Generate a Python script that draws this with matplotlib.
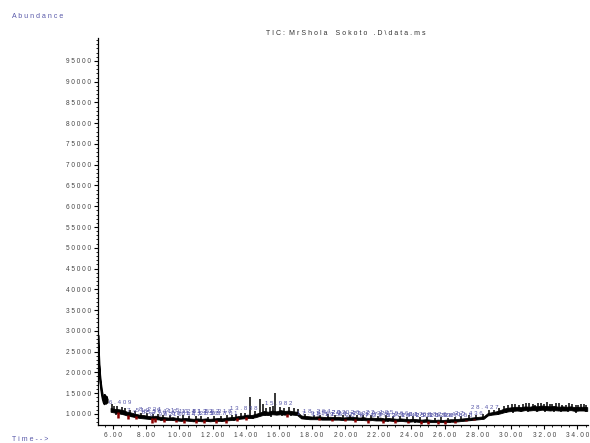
import numpy as np
import matplotlib
matplotlib.use("Agg")
import matplotlib.pyplot as plt
from matplotlib.ticker import MultipleLocator

plt.rcParams['font.family'] = ['Liberation Sans', 'DejaVu Sans']

# solvent front, start of the run
front_time = [5.09, 5.12, 5.16, 5.20, 5.25, 5.30, 5.35, 5.40, 5.45, 5.50, 5.55, 5.60, 5.65]
front_top = [29000, 25500, 22000, 19500, 17500, 16000, 14800, 13800, 13200, 14600, 13000, 14200, 13500]
front_bot = [27000, 23000, 20000, 18000, 16000, 14500, 13500, 12800, 12400, 12800, 12500, 12700, 12800]

# TIC band (upper / lower edge), one value every 0.25 min starting at 5.85 min, in counts/100
band_top = [114, 112, 111, 109, 105, 103, 100, 98, 97, 95, 94, 95, 93, 92, 91, 92, 90, 89, 90, 89,
            88, 89, 88, 89, 88, 89, 90, 89, 91, 92, 93, 95, 96, 98, 97, 100, 103, 107, 105, 108,
            106, 109, 107, 108, 106, 105, 96, 95, 94, 93, 94, 93, 92, 93, 92, 93, 91, 92, 93, 92,
            91, 92, 90, 91, 90, 91, 89, 90, 89, 88, 89, 88, 87, 88, 87, 86, 87, 86, 85, 86,
            85, 86, 87, 87, 88, 89, 90, 91, 92, 93, 94, 102, 104, 106, 109, 113, 115, 116, 117, 116,
            118, 117, 119, 118, 120, 119, 118, 119, 117, 118, 117, 118, 116, 117, 117, 116]
band_bot = [105, 103, 101, 99, 96, 94, 92, 90, 89, 88, 87, 87, 86, 85, 85, 85, 84, 83, 84, 83,
            82, 83, 82, 83, 82, 83, 83, 83, 84, 85, 86, 88, 89, 90, 90, 92, 95, 98, 97, 99,
            98, 99, 98, 99, 98, 97, 89, 88, 87, 87, 87, 86, 86, 86, 86, 86, 85, 86, 86, 85,
            85, 85, 84, 85, 84, 84, 83, 84, 83, 82, 83, 82, 81, 82, 81, 80, 81, 80, 80, 80,
            80, 80, 81, 81, 82, 83, 84, 85, 86, 87, 88, 96, 98, 99, 101, 104, 106, 107, 108, 107,
            109, 108, 109, 108, 110, 109, 108, 109, 108, 108, 108, 109, 107, 108, 108, 107]

# noise spikes above the band (time, counts)
spike_time = [5.95, 6.05, 6.25, 6.55, 6.75, 7.02, 7.3, 7.7, 8.05, 8.4, 8.7, 9.0, 9.45, 9.9, 10.25,
              10.6, 11.0, 11.3, 11.7, 12.1, 12.5, 12.9, 13.2, 13.4, 13.7, 13.95, 14.27, 14.55, 14.87,
              15.05, 15.25, 15.45, 15.62, 15.78, 16.05, 16.3, 16.6, 16.9, 17.15, 17.6, 18.1, 18.5,
              18.95, 19.4, 19.85, 20.3, 20.7, 21.1, 21.55, 22.0, 22.45, 22.9, 23.3, 23.7, 24.1, 24.5,
              24.95, 25.4, 25.8, 26.2, 26.6, 27.0, 27.45, 27.9, 28.3, 28.7, 29.0, 29.3, 29.55, 29.8,
              30.05, 30.25, 30.5, 30.7, 30.9, 31.1, 31.3, 31.45, 31.65, 31.8, 32.0, 32.15, 32.35,
              32.5, 32.7, 32.9, 33.1, 33.3, 33.5, 33.7, 33.9, 34.05, 34.25, 34.4, 34.55]
spike_top = [12300, 11900, 11800, 11600, 11300, 11000, 10700, 10300, 10100, 9900, 10000, 9700, 9600, 9500,
             9600, 9400, 9500, 9400, 9300, 9400, 9500, 9700, 9800, 9900, 10100, 10300, 14000, 10600,
             13500, 12400, 11500, 11600, 11900, 15000, 11700, 11500, 11600, 11300, 11200, 9900, 9800,
             9800, 9900, 9700, 9800, 9700, 9800, 9600, 9700, 9500, 9600, 9400, 9500, 9300, 9400, 9200,
             9300, 9100, 9200, 9100, 9300, 9400, 9600, 9800, 10000, 10900, 11000, 11500, 11900, 12100,
             12300, 12400, 12100, 12300, 12500, 12700, 12300, 12200, 12500, 12600, 12400, 12900, 12300,
             12300, 12600, 12500, 12200, 12200, 12500, 12400, 12200, 12200, 12400, 12300, 12100]

# noise dips below the band (time, counts)
dip_time = [6.15, 6.65, 7.15, 7.55, 8.9, 9.6, 10.9, 11.8, 12.6, 13.3, 14.45, 15.15, 15.55, 16.2, 16.75,
            17.4, 18.7, 19.6, 21.0, 22.6, 24.2, 26.3, 27.6, 28.55, 29.2, 29.7, 30.15, 30.6, 31.0, 31.55,
            32.05, 32.6, 33.0, 33.45, 33.95, 34.5]
dip_bot = [9800, 9600, 9200, 9000, 8300, 8200, 8100, 8000, 8100, 8300, 8800, 9400, 9300, 9400, 9500,
           8700, 8400, 8400, 8300, 8100, 7900, 7800, 8300, 9300, 9800, 10100, 10300, 10400, 10400, 10500,
           10400, 10500, 10400, 10400, 10300, 10400]

# integrated peak areas below the band (time, lowest counts)
red_time = [6.3, 6.9, 7.4, 8.35, 8.55, 9.1, 9.8, 10.3, 11.0, 11.5, 12.2, 12.8, 13.5, 14.0, 16.5,
            18.4, 19.2, 20.0, 20.6, 21.4, 22.3, 23.0, 23.8, 24.6, 25.0, 25.6, 26.0, 26.6, 27.3, 27.8]
red_bot = [9000, 8800, 8700, 7800, 8100, 8100, 8000, 7900, 7700, 7800, 7800, 7900, 8200, 8500, 9200,
           8400, 8300, 8200, 8000, 7900, 7900, 7800, 7700, 7600, 7500, 7500, 7600, 7800, 8200, 8400]

# retention time labels
peak_rt = ["6.409", "7.512", "7.853", "8.231", "8.564", "8.902", "9.315", "9.688", "10.124", "10.447",
           "10.813", "11.205", "11.562", "11.937", "12.318", "12.701", "13.888", "15.982", "17.911",
           "18.264", "18.815", "19.203", "19.617", "20.026", "20.412", "20.874", "21.293", "21.718",
           "22.105", "22.527", "22.966", "23.384", "23.817", "24.251", "24.688", "25.102", "25.533",
           "25.967", "26.402", "26.855", "27.436", "28.427"]
peak_lab_y = [12700, 10900, 10300, 11100, 10500, 9900, 10700, 10100, 10600, 9900,
              10500, 10000, 10600, 10000, 10500, 10100, 11400, 12500, 10000,
              10500, 9900, 10300, 9800, 10400, 10100, 9700, 10200, 9800,
              10300, 9700, 10000, 9600, 9900, 9600, 9800, 9500, 9700,
              9500, 9900, 9600, 10000, 11600]

x_ticks = [6, 8, 10, 12, 14, 16, 18, 20, 22, 24, 26, 28, 30, 32, 34]
y_ticks = [10000, 15000, 20000, 25000, 30000, 35000, 40000, 45000, 50000, 55000, 60000,
           65000, 70000, 75000, 80000, 85000, 90000, 95000]


def spaced(s):
    return " ".join(s)


blue = "#5656a8"
fig = plt.figure(figsize=(5.9, 4.43), dpi=100)
ax = fig.add_axes([0.166, 0.041, 0.831, 0.873])

ax.fill_between(front_time, front_bot, front_top, color="black", lw=1.2)
ax.plot(front_time, front_top, color="black", lw=1.2)

band_time = 5.85 + 0.25 * np.arange(len(band_top))
ax.fill_between(band_time, np.array(band_bot) * 100, np.array(band_top) * 100, color="black", lw=0.6)
base_top = np.interp(spike_time, band_time, np.array(band_top) * 100)
ax.vlines(spike_time, base_top - 300, spike_top, color="black", lw=1.1)
base_bot = np.interp(dip_time, band_time, np.array(band_bot) * 100)
ax.vlines(dip_time, dip_bot, base_bot + 300, color="black", lw=1.1)

red_base = np.interp(red_time, band_time, np.array(band_bot) * 100)
ax.vlines(red_time, red_bot, red_base + 200, color="#8b0000", lw=1.8)

for rt, ly in zip(peak_rt, peak_lab_y):
    ax.text(float(rt), ly, spaced(rt), fontsize=4.4, color=blue, ha="center", va="center")

ax.set_xlim(5.09, 34.66)
ax.set_ylim(7350, 100500)
ax.set_xticks(x_ticks)
ax.set_xticklabels([spaced("%.2f" % v) for v in x_ticks])
ax.set_yticks(y_ticks)
ax.set_yticklabels([spaced(str(v)) for v in y_ticks])
ax.xaxis.set_minor_locator(MultipleLocator(0.5))
ax.yaxis.set_minor_locator(MultipleLocator(1000))
ax.tick_params(which="major", length=3, width=0.8, labelsize=4.7, labelcolor="#444444", pad=2)
ax.tick_params(which="minor", length=1.5, width=0.6)
for side in ["top", "right"]:
    ax.spines[side].set_visible(False)
for side in ["left", "bottom"]:
    ax.spines[side].set_linewidth(0.9)

fig.text(0.586, 0.917, spaced("TIC:") + "  " + spaced("MrShola") + "    "
         + spaced("Sokoto") + "   " + spaced(".D\\data.ms"), fontsize=5.0, color="#333333",
         ha="center", va="bottom")
fig.text(0.02, 0.962, spaced("Abundance"), fontsize=5.0, color=blue, ha="left", va="center")
fig.text(0.02, 0.008, spaced("Time-->"), fontsize=5.0, color=blue, ha="left", va="center")

fig.savefig("out.png", dpi=100)
